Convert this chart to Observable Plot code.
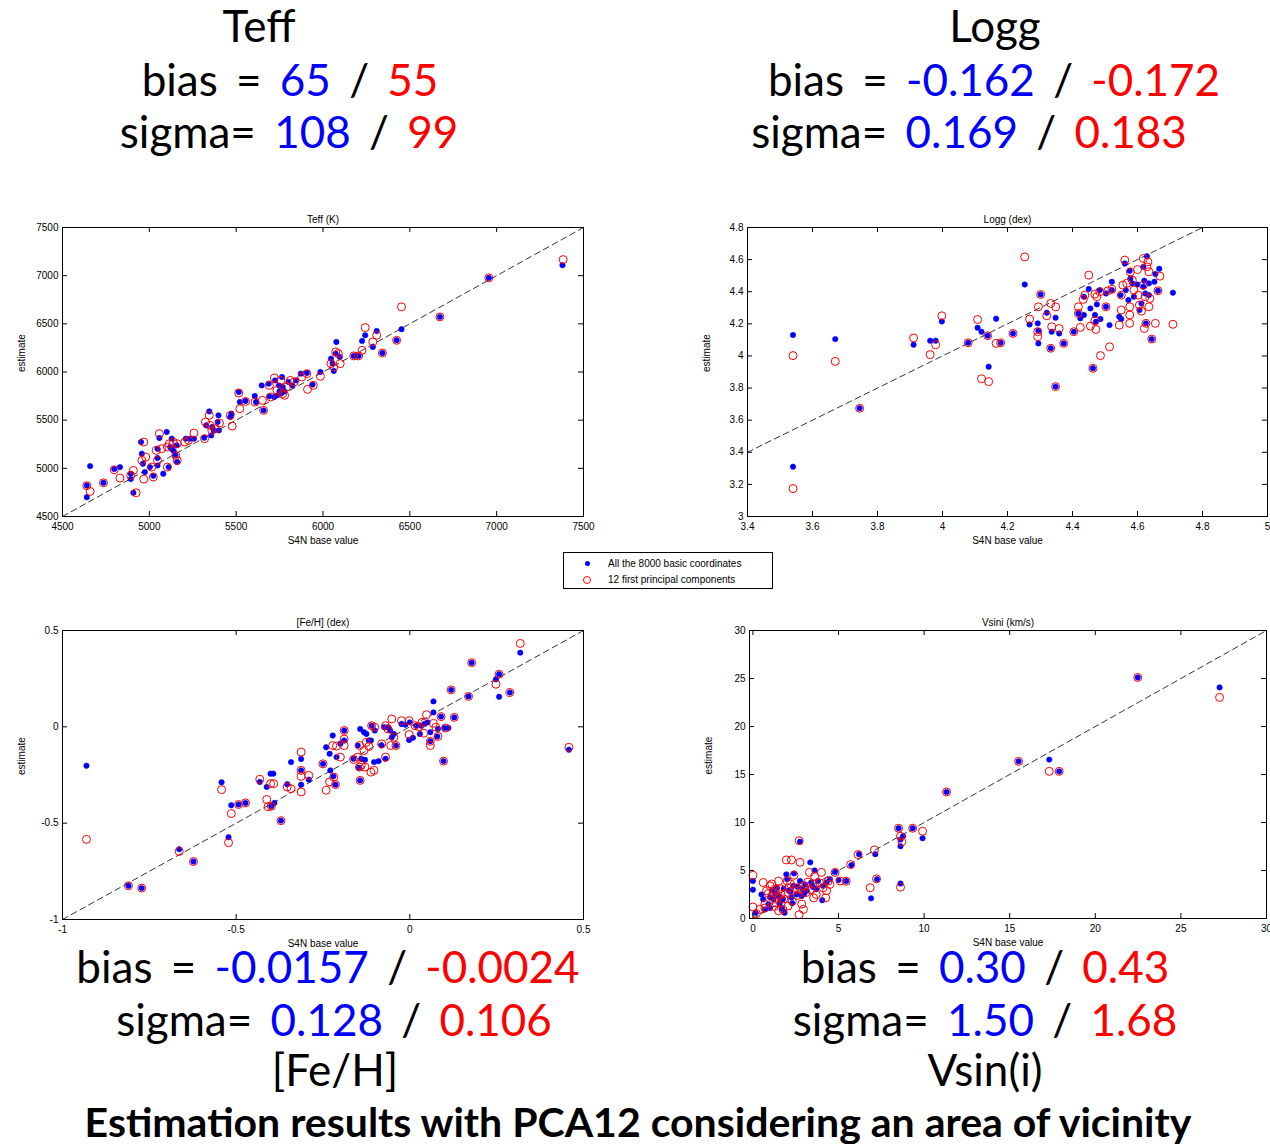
<!DOCTYPE html>
<html><head><meta charset="utf-8">
<script src="https://cdn.jsdelivr.net/npm/d3@7"></script>
<script src="https://cdn.jsdelivr.net/npm/@observablehq/plot@0.6"></script>
<style>
body{margin:0;background:#fff;}
#page{position:relative;width:1270px;height:1144px;overflow:hidden;background:#fff;}
.panel{position:absolute;}
.panel svg{overflow:visible;max-width:none !important;}
.big{position:absolute;width:1200px;text-align:center;white-space:pre;line-height:1;color:#000;font-family:Lato,sans-serif;font-size:44px;word-spacing:7px;}
.big.title{font-weight:700;font-size:41px;word-spacing:0;}
.b{color:#0000ff}.r{color:#ff0000}
#legend{position:absolute;left:563px;top:552px;width:208px;height:35px;border:1px solid #000;background:#fff;font:10px "Liberation Sans",Arial,sans-serif;color:#000;}
#legend .row{position:absolute;left:0;height:14px;line-height:14px;white-space:nowrap;}
#legend .sym{position:absolute;box-sizing:border-box;border-radius:50%;}
</style></head><body><div id="page"></div>
<script>
// ---------- data ----------
const teffBlue = [[4640,4700],[4640,4822],[4659,5023],[4736,4850],[4798,4992],[4831,5013],[4893,4944],[4893,4888],[4908,4746],[4952,5273],[4957,5152],[4963,5048],[4974,4961],[5003,5013],[5023,4923],[5047,5030],[5047,5107],[5058,5315],[5047,5204],[5080,4944],[5100,5377],[5111,5013],[5129,5308],[5120,5221],[5130,5200],[5140,5180],[5151,5134],[5160,5065],[5157,5239],[5210,5308],[5235,5308],[5257,5308],[5316,5318],[5327,5446],[5345,5591],[5356,5342],[5362,5429],[5371,5394],[5398,5550],[5393,5481],[5400,5394],[5466,5533],[5473,5567],[5515,5792],[5521,5688],[5554,5699],[5607,5751],[5614,5688],[5647,5861],[5658,5602],[5687,5879],[5691,5747],[5720,5740],[5724,5913],[5740,5760],[5746,5861],[5750,5800],[5760,5780],[5764,5948],[5768,5844],[5779,5799],[5801,5896],[5823,5861],[5845,5913],[5872,5983],[5907,5990],[5940,5869],[5985,6000],[6046,6139],[6055,6087],[6062,6011],[6077,6312],[6073,6191],[6097,6156],[6177,6167],[6205,6167],[6225,6323],[6243,6381],[6287,6260],[6309,6426],[6342,6198],[6424,6329],[6452,6444],[6673,6572],[6955,6977],[7379,7109]];
const teffRed = [[4640,4820],[4659,4760],[4736,4850],[4798,4985],[4831,4899],[4908,4978],[4893,4927],[4924,4746],[4968,5273],[4968,4888],[4979,5117],[4957,5082],[5014,5013],[5023,4910],[5058,5360],[5047,5082],[5040,5186],[5071,5204],[5104,5013],[5104,5221],[5115,5256],[5137,5273],[5153,5134],[5160,5082],[5160,5256],[5204,5273],[5226,5290],[5257,5366],[5318,5308],[5323,5481],[5345,5550],[5349,5446],[5360,5394],[5382,5412],[5404,5470],[5466,5550],[5477,5439],[5515,5782],[5521,5619],[5554,5695],[5609,5688],[5651,5706],[5658,5602],[5691,5861],[5698,5740],[5720,5938],[5735,5810],[5757,5913],[5768,5775],[5779,5758],[5790,5844],[5812,5913],[5834,5896],[5878,5948],[5907,5983],[5911,5820],[5944,5862],[5985,5955],[6046,6087],[6062,6052],[6073,6208],[6088,6191],[6099,6087],[6177,6167],[6205,6167],[6225,6225],[6243,6461],[6287,6312],[6309,6381],[6342,6198],[6424,6329],[6452,6676],[6673,6572],[6955,6977],[7383,7167]];

const loggBlue = [[3.54,4.13],[3.67,4.105],[3.54,3.31],[3.745,3.674],[3.911,4.07],[3.962,4.095],[3.979,4.095],[3.998,4.215],[4.079,4.082],[4.108,4.176],[4.12,4.151],[4.139,4.126],[4.142,3.933],[4.165,4.232],[4.179,4.082],[4.217,4.14],[4.253,4.445],[4.268,4.196],[4.293,4.203],[4.295,4.157],[4.295,4.078],[4.302,4.383],[4.321,4.269],[4.333,4.048],[4.336,4.151],[4.348,4.238],[4.348,3.809],[4.359,4.14],[4.373,4.078],[4.404,4.151],[4.418,4.265],[4.424,4.234],[4.435,4.255],[4.435,4.369],[4.45,4.417],[4.455,4.296],[4.463,3.923],[4.469,4.255],[4.472,4.213],[4.475,4.321],[4.486,4.23],[4.484,4.41],[4.503,4.306],[4.503,4.389],[4.514,4.192],[4.521,4.462],[4.521,4.41],[4.544,4.244],[4.548,4.379],[4.55,4.23],[4.561,4.576],[4.564,4.41],[4.572,4.348],[4.576,4.53],[4.578,4.483],[4.584,4.452],[4.589,4.369],[4.6,4.445],[4.606,4.286],[4.612,4.327],[4.618,4.555],[4.618,4.431],[4.621,4.469],[4.624,4.389],[4.629,4.621],[4.626,4.203],[4.635,4.379],[4.635,4.452],[4.644,4.105],[4.652,4.462],[4.655,4.51],[4.663,4.406],[4.667,4.543],[4.709,4.394]];
const loggRed = [[3.54,4.002],[3.67,3.966],[3.54,3.174],[3.745,3.674],[3.911,4.112],[3.962,4.008],[3.979,4.07],[3.998,4.25],[4.079,4.082],[4.108,4.227],[4.12,3.858],[4.142,3.84],[4.139,4.126],[4.165,4.078],[4.179,4.082],[4.217,4.14],[4.253,4.617],[4.268,4.23],[4.295,4.306],[4.293,4.151],[4.293,4.12],[4.302,4.383],[4.321,4.25],[4.333,4.327],[4.336,4.182],[4.348,4.306],[4.359,4.171],[4.333,4.048],[4.348,3.809],[4.373,4.078],[4.404,4.151],[4.418,4.306],[4.418,4.265],[4.424,4.178],[4.433,4.352],[4.438,4.379],[4.45,4.503],[4.455,4.186],[4.463,3.923],[4.469,4.219],[4.472,4.165],[4.469,4.385],[4.475,4.369],[4.486,4.002],[4.484,4.4],[4.503,4.306],[4.514,4.057],[4.509,4.406],[4.521,4.415],[4.544,4.192],[4.55,4.286],[4.55,4.379],[4.555,4.441],[4.561,4.597],[4.567,4.452],[4.576,4.306],[4.576,4.255],[4.576,4.203],[4.578,4.523],[4.584,4.472],[4.589,4.41],[4.6,4.538],[4.602,4.379],[4.606,4.317],[4.612,4.279],[4.618,4.607],[4.618,4.441],[4.621,4.171],[4.624,4.369],[4.626,4.203],[4.629,4.555],[4.632,4.586],[4.635,4.524],[4.635,4.306],[4.638,4.358],[4.644,4.105],[4.655,4.203],[4.663,4.406],[4.669,4.497],[4.709,4.197]];

const fehBlue = [[-0.931,-0.202],[-0.81,-0.825],[-0.772,-0.837],[-0.664,-0.635],[-0.623,-0.699],[-0.542,-0.288],[-0.522,-0.573],[-0.514,-0.407],[-0.493,-0.403],[-0.473,-0.395],[-0.432,-0.286],[-0.412,-0.312],[-0.401,-0.243],[-0.393,-0.243],[-0.399,-0.412],[-0.39,-0.395],[-0.371,-0.487],[-0.353,-0.298],[-0.342,-0.183],[-0.313,-0.167],[-0.313,-0.226],[-0.313,-0.3],[-0.291,-0.274],[-0.25,-0.192],[-0.241,-0.106],[-0.231,-0.14],[-0.229,-0.226],[-0.222,-0.045],[-0.22,-0.257],[-0.214,-0.3],[-0.211,-0.157],[-0.2,-0.088],[-0.189,-0.019],[-0.189,-0.071],[-0.162,-0.166],[-0.15,-0.097],[-0.147,-0.212],[-0.143,-0.011],[-0.143,-0.278],[-0.14,-0.166],[-0.132,-0.028],[-0.129,-0.171],[-0.125,-0.037],[-0.118,-0.071],[-0.112,-0.071],[-0.11,0.006],[-0.103,-0.183],[-0.101,-0.019],[-0.09,-0.178],[-0.081,-0.097],[-0.074,-0.002],[-0.07,-0.166],[-0.063,-0.002],[-0.057,-0.019],[-0.052,-0.054],[-0.046,-0.037],[-0.04,-0.097],[-0.024,0.015],[-0.013,0.011],[-0.002,-0.068],[0,0.023],[0.009,-0.057],[0.018,0.006],[0.029,-0.037],[0.033,0.006],[0.042,0.015],[0.051,0.023],[0.059,-0.075],[0.059,-0.028],[0.068,0.132],[0.068,0.075],[0.079,-0.05],[0.081,-0.011],[0.09,0.053],[0.097,-0.178],[0.1,-0.006],[0.111,-0.006],[0.119,0.192],[0.128,0.049],[0.169,0.158],[0.178,0.333],[0.248,0.247],[0.257,0.156],[0.257,0.273],[0.288,0.178],[0.318,0.385],[0.458,-0.119]];
const fehRed = [[-0.931,-0.584],[-0.81,-0.825],[-0.772,-0.837],[-0.664,-0.647],[-0.623,-0.699],[-0.542,-0.326],[-0.522,-0.601],[-0.514,-0.45],[-0.493,-0.403],[-0.473,-0.395],[-0.432,-0.272],[-0.412,-0.377],[-0.401,-0.295],[-0.392,-0.295],[-0.408,-0.415],[-0.399,-0.412],[-0.371,-0.487],[-0.353,-0.312],[-0.342,-0.321],[-0.313,-0.131],[-0.313,-0.226],[-0.313,-0.257],[-0.313,-0.338],[-0.291,-0.252],[-0.25,-0.192],[-0.241,-0.329],[-0.231,-0.286],[-0.222,-0.097],[-0.219,-0.26],[-0.214,-0.3],[-0.211,-0.1],[-0.2,-0.157],[-0.189,-0.019],[-0.189,-0.063],[-0.189,-0.097],[-0.162,-0.169],[-0.15,-0.157],[-0.145,-0.097],[-0.145,-0.209],[-0.143,-0.278],[-0.14,-0.2],[-0.132,-0.123],[-0.129,-0.209],[-0.125,-0.08],[-0.118,-0.102],[-0.112,-0.235],[-0.11,0.006],[-0.103,-0.226],[-0.101,-0.002],[-0.081,-0.088],[-0.07,-0.157],[-0.07,0.006],[-0.063,-0.011],[-0.055,-0.097],[-0.052,0.041],[-0.046,-0.054],[-0.04,-0.097],[-0.024,0.032],[-0.002,0.032],[-0.002,-0.04],[0.015,0.006],[0.026,0.001],[0.035,0.023],[0.04,-0.033],[0.048,0.063],[0.059,-0.097],[0.059,-0.075],[0.068,0.018],[0.075,-0.002],[0.081,-0.05],[0.09,0.053],[0.097,-0.178],[0.103,-0.006],[0.119,0.192],[0.128,0.049],[0.169,0.158],[0.178,0.333],[0.248,0.221],[0.257,0.273],[0.288,0.178],[0.318,0.433],[0.458,-0.106]];

const vsiniBlue = [[0,3.9],[0,3.0],[0.16,0.6],[0.5,2.5],[0.6,2.0],[0.7,0.95],[0.9,1.5],[1.0,1.1],[1.1,2.9],[1.2,2.0],[1.4,3.2],[1.5,2.35],[1.55,1.5],[1.7,1.0],[1.75,2.0],[1.85,0.6],[1.95,4.6],[2.0,4.1],[2.1,2.9],[2.25,2.2],[2.4,4.7],[2.35,3.4],[2.55,2.5],[2.75,8.0],[2.75,3.9],[2.85,2.35],[3.05,3.55],[3.15,2.9],[3.35,5.85],[3.4,3.75],[3.6,5.0],[3.7,3.05],[3.8,3.9],[4.05,1.9],[4.1,3.4],[4.3,3.75],[4.5,4.1],[4.8,4.85],[5.0,4.0],[5.45,3.9],[5.75,5.55],[6.2,6.7],[6.9,2.1],[7.15,6.7],[7.25,4.1],[1.3,2.6],[1.8,3.1],[2.2,2.8],[2.6,3.3],[3.0,2.6],[1.6,1.8],[2.9,3.1],[3.5,3.3],[1.0,2.2],[2.3,1.6],[8.51,9.4],[8.62,8.22],[8.62,7.53],[8.62,3.64],[8.77,8.57],[9.33,9.4],[9.91,8.36],[11.31,13.18],[15.52,16.37],[17.31,16.55],[17.89,15.33],[22.48,25.11],[27.26,24.07]];
const vsiniRed = [[0,4.5],[0,1.2],[0.2,0.5],[0.6,3.75],[0.4,0.95],[0.7,1.5],[0.8,2.9],[1.0,3.4],[1.1,2.3],[1.3,3.05],[1.35,1.65],[1.5,3.9],[1.65,2.5],[1.75,0.95],[1.8,2.05],[1.95,6.1],[2.1,3.2],[2.25,6.1],[2.3,1.8],[2.4,4.5],[2.55,3.2],[2.7,8.1],[2.75,5.85],[2.7,0.4],[2.85,1.5],[2.95,0.95],[2.95,3.4],[3.2,3.8],[3.3,4.8],[3.55,2.15],[3.6,3.55],[3.7,2.5],[4.0,4.8],[4.1,3.2],[4.25,2.15],[4.3,2.9],[4.5,3.55],[4.8,4.8],[5.1,3.9],[1.2,2.7],[1.45,2.1],[1.9,2.6],[2.05,1.3],[2.4,2.9],[2.6,2.4],[2.8,3.0],[3.1,2.7],[3.4,3.0],[1.1,3.6],[0.9,2.6],[2.2,3.6],[3.9,3.7],[4.4,3.9],[3.6,4.4],[2.0,3.9],[1.6,3.1],[0.7,1.1],[1.25,1.25],[1.5,0.8],[5.45,3.88],[5.71,5.62],[6.14,6.66],[6.85,3.2],[7.1,7.15],[7.22,4.13],[8.51,9.4],[8.62,8.57],[8.62,3.26],[8.7,8.0],[9.33,9.4],[9.91,9.09],[11.31,13.18],[15.52,16.37],[17.31,15.33],[17.89,15.33],[22.48,25.11],[27.26,23.03]];

const panelTitles = ["Teff (K)", "Logg (dex)", "[Fe/H] (dex)", "Vsini (km/s)"];
const teffTicks = [4500,5000,5500,6000,6500,7000,7500];
const loggXTicks = [3.4,3.6,3.8,4,4.2,4.4,4.6,4.8,5];
const loggYTicks = [3,3.2,3.4,3.6,3.8,4,4.2,4.4,4.6,4.8];
const fehTicks = [-1,-0.5,0,0.5];
const vsiniTicks = [0,5,10,15,20,25,30];
const xLabel = "S4N base value";
const yLabel = "estimate";
const legendLabels = ["All the 8000 basic coordinates", "12 first principal components"];

const paramNames = ["Teff", "Logg", "[Fe/H]", "Vsin(i)"];
const biasBlue = ["65", "-0.162", "-0.0157", "0.30"];
const biasRed = ["55", "-0.172", "-0.0024", "0.43"];
const sigmaBlue = ["108", "0.169", "0.128", "1.50"];
const sigmaRed = ["99", "0.183", "0.106", "1.68"];
const caption = "Estimation results with PCA12 considering an area of vicinity";

// ---------- layout ----------
const page = document.getElementById("page");
const BLUE = "#0000ff", RED = "#ff0000";
const fmt = d => String(Math.round(d * 100) / 100);

const panels = [
  {title: panelTitles[0], blue: teffBlue, red: teffRed, xd: [4500,7500], yd: [4500,7500], xt: teffTicks, yt: teffTicks, frame: [62,227,583,516]},
  {title: panelTitles[1], blue: loggBlue, red: loggRed, xd: [3.4,5], yd: [3,4.8], xt: loggXTicks, yt: loggYTicks, frame: [747,227,1267,516]},
  {title: panelTitles[2], blue: fehBlue, red: fehRed, xd: [-1,0.5], yd: [-1,0.5], xt: fehTicks, yt: fehTicks, frame: [62,630,583,919]},
  {title: panelTitles[3], blue: vsiniBlue, red: vsiniRed, xd: [-0.2,30], yd: [0,30], xt: vsiniTicks, yt: vsiniTicks, frame: [749,630,1266,918]}
];

for (const p of panels) {
  const [x0, y0, x1, y1] = p.frame;
  const mL = 62, mT = 30, mR = 20, mB = 36;
  const fw = x1 - x0, fh = y1 - y0;
  const W = fw + mL + mR, H = fh + mT + mB;
  const diag = [Math.max(p.xd[0], p.yd[0]), Math.min(p.xd[1], p.yd[1])];
  const chart = Plot.plot({
    width: W, height: H,
    marginLeft: mL, marginTop: mT, marginRight: mR, marginBottom: mB,
    x: {domain: p.xd, label: null},
    y: {domain: p.yd, label: null},
    style: {fontFamily: "'Liberation Sans', Arial, sans-serif", fontSize: "10px", background: "transparent", overflow: "visible", color: "#000"},
    marks: [
      Plot.line(diag, {x: d => d, y: d => d, stroke: "#000", strokeWidth: 0.8, strokeDasharray: "6,4"}),
      Plot.dot(p.blue, {x: d => d[0], y: d => d[1], r: 2.7, fill: BLUE, stroke: BLUE, strokeWidth: 0.6}),
      Plot.dot(p.red, {x: d => d[0], y: d => d[1], r: 4, fill: "none", stroke: RED, strokeWidth: 1}),
      Plot.frame({stroke: "#000", strokeWidth: 1}),
      Plot.tickX(p.xt, {x: d => d, insetTop: fh - 5, stroke: "#000"}),
      Plot.tickX(p.xt, {x: d => d, insetBottom: fh - 5, stroke: "#000"}),
      Plot.tickY(p.yt, {y: d => d, insetRight: fw - 5, stroke: "#000"}),
      Plot.tickY(p.yt, {y: d => d, insetLeft: fw - 5, stroke: "#000"}),
      Plot.axisX(p.xt, {tickSize: 0, tickPadding: 6, tickFormat: fmt, label: null}),
      Plot.axisY(p.yt, {tickSize: 0, tickPadding: 4, tickFormat: fmt, label: null}),
      Plot.text([p.title], {frameAnchor: "top", dy: -12, text: d => d}),
      Plot.text([xLabel], {frameAnchor: "bottom", dy: 27, text: d => d}),
      Plot.text([yLabel], {frameAnchor: "left", dx: -41, rotate: -90, text: d => d})
    ]
  });
  chart.style.maxWidth = "none";
  chart.style.width = W + "px";
  chart.style.height = H + "px";
  const wrap = document.createElement("div");
  wrap.className = "panel";
  wrap.style.left = (x0 - mL) + "px";
  wrap.style.top = (y0 - mT) + "px";
  wrap.style.width = W + "px";
  wrap.style.height = H + "px";
  wrap.appendChild(chart);
  page.appendChild(wrap);
}

// legend
const legend = document.createElement("div");
legend.id = "legend";
legendLabels.forEach((lab, i) => {
  const cy = 11 + i * 16;
  const sym = document.createElement("span");
  sym.className = "sym";
  if (i === 0) { Object.assign(sym.style, {width: "5px", height: "5px", left: "21px", top: (cy - 3) + "px", background: BLUE}); }
  else { Object.assign(sym.style, {width: "8px", height: "8px", left: "19px", top: (cy - 4) + "px", border: "1px solid " + RED}); }
  legend.appendChild(sym);
  const row = document.createElement("div");
  row.className = "row";
  row.style.left = "44px";
  row.style.top = (cy - 7) + "px";
  row.textContent = lab;
  legend.appendChild(row);
});
page.appendChild(legend);

// big annotation text
const stat = (label, b, r) => `${label}<span class="b">${b}</span> / <span class="r">${r}</span>`;
const lines = [
  {cx: 259, base: 42, html: paramNames[0]},
  {cx: 290, base: 96, html: stat("bias = ", biasBlue[0], biasRed[0])},
  {cx: 289, base: 148, html: stat("sigma= ", sigmaBlue[0], sigmaRed[0])},
  {cx: 995, base: 42, html: paramNames[1]},
  {cx: 994, base: 96, html: stat("bias = ", biasBlue[1], biasRed[1])},
  {cx: 969, base: 148, html: stat("sigma= ", sigmaBlue[1], sigmaRed[1])},
  {cx: 328, base: 983, html: stat("bias = ", biasBlue[2], biasRed[2])},
  {cx: 334, base: 1036, html: stat("sigma= ", sigmaBlue[2], sigmaRed[2])},
  {cx: 335, base: 1086, html: paramNames[2]},
  {cx: 985, base: 983, html: stat("bias = ", biasBlue[3], biasRed[3])},
  {cx: 985, base: 1036, html: stat("sigma= ", sigmaBlue[3], sigmaRed[3])},
  {cx: 985, base: 1086, html: paramNames[3]},
  {cx: 638, base: 1137, html: caption, cls: "title"}
];
for (const l of lines) {
  const d = document.createElement("div");
  d.className = "big" + (l.cls ? " " + l.cls : "");
  d.innerHTML = l.html + '<span class="bl" style="display:inline-block;width:0;height:0;vertical-align:baseline"></span>';
  d.style.left = (l.cx - 600) + "px";
  d.style.top = "0px";
  page.appendChild(d);
  const pr = page.getBoundingClientRect();
  const bl = d.querySelector(".bl").getBoundingClientRect().bottom - pr.top;
  d.style.top = (l.base - bl) + "px";
}
</script></body></html>
